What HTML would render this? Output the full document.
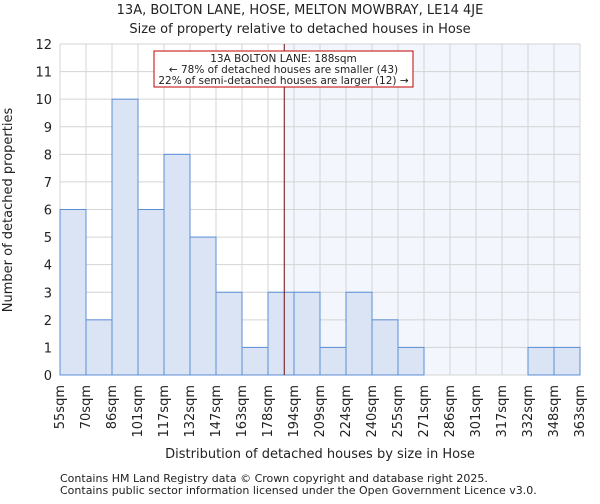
<!DOCTYPE html>
<html><head><meta charset="utf-8"><style>
body{margin:0;background:#fff;font-family:"DejaVu Sans","Liberation Sans",sans-serif}
svg text{font-family:"DejaVu Sans","Liberation Sans",sans-serif;fill:#222}
</style></head><body>
<svg id="c" width="600" height="500" xmlns="http://www.w3.org/2000/svg"></svg>
<script>
const edgeLabels=["55sqm","70sqm","86sqm","101sqm","117sqm","132sqm","147sqm","163sqm","178sqm","194sqm","209sqm","224sqm","240sqm","255sqm","271sqm","286sqm","301sqm","317sqm","332sqm","348sqm","363sqm"];
const counts=[6,2,10,6,8,5,3,1,3,3,1,3,2,1,0,0,0,0,1,1];
const yTicks=[0,1,2,3,4,5,6,7,8,9,10,11,12];
const propertySize=188;
const edgeValues=[55,70,86,101,117,132,147,163,178,194,209,224,240,255,271,286,301,317,332,348,363];
const L=60,R=580,T=44,B=375,yMax=12;
const svg=document.getElementById('c');const NS="http://www.w3.org/2000/svg";
const n=counts.length,bw=(R-L)/n;
const xb=i=>L+i*bw;const y=v=>B-(v/yMax)*(B-T);
function xv(v){for(let i=0;i<edgeValues.length-1;i++){if(v<=edgeValues[i+1])return xb(i)+bw*(v-edgeValues[i])/(edgeValues[i+1]-edgeValues[i]);}return R;}
function mk(t,a,txt){const e=document.createElementNS(NS,t);for(const k in a)e.setAttribute(k,a[k]);if(txt!=null)e.textContent=txt;svg.appendChild(e);return e;}
const px=xv(propertySize);
let e=mk('rect',{x:px,y:T,width:R-px,height:B-T,fill:'#f3f6fd'});


for(let i=0;i<=n;i++){e=mk('line',{x1:xb(i),x2:xb(i),y1:T,y2:B,stroke:'#d4d4d4','stroke-width':1});

}
yTicks.forEach(t=>{e=mk('line',{x1:L,x2:R,y1:y(t),y2:y(t),stroke:'#d4d4d4','stroke-width':1});


e=mk('text',{x:L-8,y:y(t)+5,'text-anchor':'end','font-size':13},t);

});
counts.forEach((c,i)=>{if(c<=0)return;
e=mk('rect',{x:xb(i),y:y(c),width:bw,height:B-y(c),fill:'#dae4f4',stroke:'#5b8ed6','stroke-width':1});

});
edgeLabels.forEach((l,i)=>{const x=xb(i)+4,yy=B+10;
e=mk('text',{x:x,y:yy,'text-anchor':'end','font-size':13,transform:`rotate(-90 ${x} ${yy})`},l);

});
e=mk('line',{x1:px,x2:px,y1:T,y2:B,stroke:'#6b0d0d','stroke-width':1});


e=mk('rect',{x:154,y:51,width:259,height:36,fill:'#fff',stroke:'#c00000','stroke-width':1});


["13A BOLTON LANE: 188sqm","← 78% of detached houses are smaller (43)","22% of semi-detached houses are larger (12) →"].forEach((s,i)=>{
e=mk('text',{x:283.5,y:62+i*11,'text-anchor':'middle','font-size':10.5},s);

});
e=mk('text',{x:300,y:14,'text-anchor':'middle','font-size':13},"13A, BOLTON LANE, HOSE, MELTON MOWBRAY, LE14 4JE");


e=mk('text',{x:300,y:33,'text-anchor':'middle','font-size':13},"Size of property relative to detached houses in Hose");


e=mk('text',{x:12,y:210,'text-anchor':'middle','font-size':13,transform:'rotate(-90 12 210)'},"Number of detached properties");


e=mk('text',{x:320,y:458,'text-anchor':'middle','font-size':13},"Distribution of detached houses by size in Hose");


e=mk('text',{x:60,y:482,'font-size':11},"Contains HM Land Registry data © Crown copyright and database right 2025.");


e=mk('text',{x:60,y:494,'font-size':11},"Contains public sector information licensed under the Open Government Licence v3.0.");


</script>
</body></html>
